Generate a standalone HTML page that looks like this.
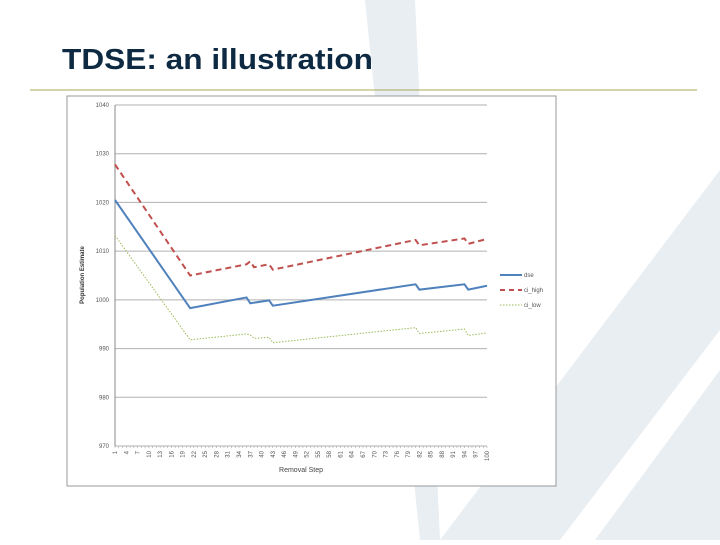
<!DOCTYPE html>
<html><head><meta charset="utf-8"><style>
body{margin:0;width:720px;height:540px;overflow:hidden;background:#fff;font-family:"Liberation Sans",sans-serif}
</style></head><body>
<svg width="720" height="540" viewBox="0 0 720 540" xmlns="http://www.w3.org/2000/svg">
<g fill="#e9eef2">
<polygon points="365,0 415,0 440,540 420,540" />
<polygon points="440,540 560,540 720,330 720,170" />
<polygon points="595,540 720,540 720,370" />
</g>
<text x="62" y="69" font-size="29" font-weight="bold" fill="#0d2a42" textLength="311" lengthAdjust="spacingAndGlyphs">TDSE: an illustration</text>
<line x1="30" y1="90" x2="697" y2="90" stroke="#a8a850" stroke-width="1"/>
<rect x="67" y="96" width="489" height="390" fill="#fff" stroke="#999" stroke-width="1"/>
<g id="chart"></g>
</svg>
<script>
const steps = [1, 21, 36, 37, 42, 43, 81, 82, 94, 95, 100];
const dse   = [1020.5, 998.3, 1000.5, 999.3, 999.9, 998.8, 1003.2, 1002.1, 1003.2, 1002.1, 1002.9];
const ciSteps = [1, 21, 36, 37, 38, 42, 43, 81, 82, 94, 95, 100];
const ciHigh = [1027.8, 1005.0, 1007.3, 1007.9, 1006.7, 1007.3, 1006.2, 1012.3, 1011.2, 1012.6, 1011.5, 1012.5];
const ciLow  = [1013.2, 991.8, 993.0, 992.8, 992.1, 992.3, 991.2, 994.3, 993.1, 994.0, 992.7, 993.2];
const yTicks = [970, 980, 990, 1000, 1010, 1020, 1030, 1040];
const NS='http://www.w3.org/2000/svg';
const g=document.getElementById('chart');
const X0=115,X1=487,Y0=446,Y1=105;
const xs=s=>X0+(s-1)/99*(X1-X0);
const ys=v=>Y0-(v-970)/70*(Y0-Y1);
function mk(t,a){const e=document.createElementNS(NS,t);for(const k in a)e.setAttribute(k,a[k]);g.appendChild(e);return e;}
yTicks.forEach(v=>{
  const l=mk('line',{x1:X0,x2:X1,y1:ys(v),y2:ys(v),stroke:'#b0b0b0','stroke-width':1});
  
  
  const t=mk('text',{x:X0-6,y:ys(v)+2,'font-size':6,'text-anchor':'end',fill:'#555'});
  t.textContent=v;
  
  
});
const ax=mk('line',{x1:X0,x2:X0,y1:Y1,y2:Y0,stroke:'#888','stroke-width':1});


for(let s=1;s<=100;s++){
  const tk=mk('line',{x1:xs(s),x2:xs(s),y1:Y0,y2:Y0+2,stroke:'#999','stroke-width':0.5});
  
  
  if((s-1)%3===0){
    const t=mk('text',{x:0,y:0,'font-size':6,fill:'#555','text-anchor':'end',transform:`translate(${xs(s)+2},${Y0+5}) rotate(-90)`});
    t.textContent=s;
    
    
  }
}
function series(xarr,varr,col,w,dash,name){
  const p=mk('polyline',{points:xarr.map((s,i)=>xs(s)+','+ys(varr[i])).join(' '),fill:'none',stroke:col,'stroke-width':w,'stroke-dasharray':dash});
  
  
}
series(ciSteps,ciHigh,'#c0504d',2,'6,4','series-ci-high');
series(steps,dse,'#4f81bd',2,'none','series-dse');
series(ciSteps,ciLow,'#9bbb59',1,'1.5,1.5','series-ci-low');
const xt=mk('text',{x:301,y:472,'font-size':7,'text-anchor':'middle',fill:'#444'});
xt.textContent='Removal Step';


const yt=mk('text',{x:0,y:0,'font-size':6,'font-weight':'bold','text-anchor':'middle',fill:'#333',transform:'translate(84,275) rotate(-90)'});
yt.textContent='Population Estimate';


[['dse','#4f81bd',2,'none'],['ci_high','#c0504d',2,'5,4'],['ci_low','#9bbb59',1,'1.5,1.5']].forEach((e,i)=>{
  const y=275+i*15;
  const l=mk('line',{x1:500,x2:522,y1:y,y2:y,stroke:e[1],'stroke-width':e[2],'stroke-dasharray':e[3]});
  
  
  const t=mk('text',{x:524,y:y+2,'font-size':6,fill:'#555'});
  t.textContent=e[0];
  
  
});
</script>
</body></html>
